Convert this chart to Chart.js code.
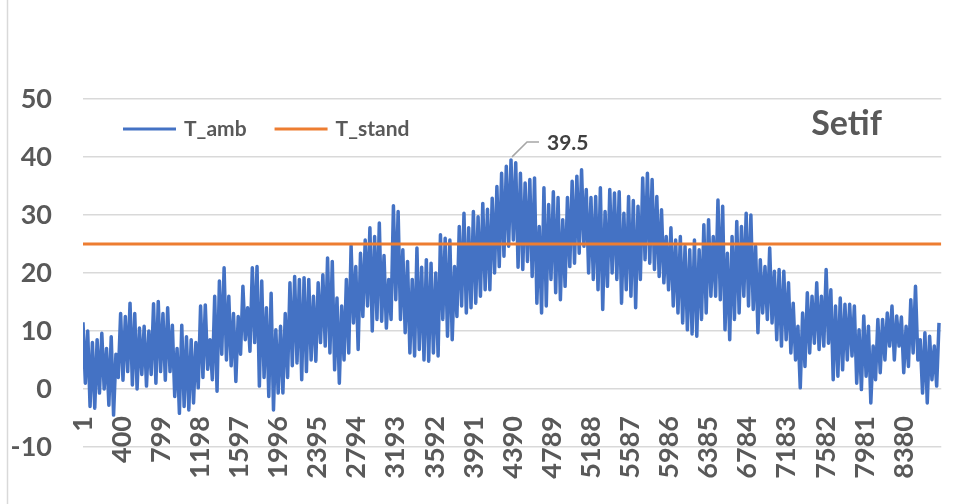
<!DOCTYPE html>
<html lang="en">
<head>
    <meta charset="UTF-8">
    <meta name="viewport" content="width=device-width, initial-scale=1.0">
    <title>Setif | T_amb vs T_stand</title>
    <script src="https://cdn.jsdelivr.net/npm/chart.js@4.4.0/dist/chart.umd.min.js"></script>
    <style>
        html, body { margin: 0; padding: 0; background: #fff; }
        .chart-box { position: relative; width: 956px; height: 504px; }
    </style>
</head>
<body>
    <div class="chart-box">
        <canvas id="setif-chart"></canvas>
    </div>

    <script>
        // Hourly ambient temperature, kept as alternating daily peaks / troughs
        // peaks every 48 h starting at hour 1, troughs every 48 h starting at hour 25
        const tHigh = [
            11.5, 10, 8, 8.5, 9.6, 7, 9, 6, 13, 12.5,
            14.8, 13, 10.5, 10.8, 10, 14.7, 15.1, 13, 14, 11,
            7, 11, 9, 8.5, 8, 14.3, 14.5, 8.5, 16, 18.6,
            20.9, 16, 13, 12.5, 17.7, 14, 20.9, 21.1, 18.6, 14,
            16.5, 10.2, 10.8, 13, 18.3, 19.4, 18.9, 19.2, 18.9, 16,
            18.3, 19.7, 22.6, 22, 15.7, 14.3, 18.9, 24.7, 21.1, 23.4,
            25.7, 27.8, 26.3, 28.6, 23, 18.9, 31.6, 30.6, 24, 22,
            18.9, 24.3, 21, 22.3, 21.7, 20, 26.6, 26, 25.7, 21.1,
            28, 30.3, 27.8, 30.6, 29.7, 32, 31, 32.9, 34.9, 37.2,
            38.4, 39.5, 39, 37.2, 35.5, 36.1, 36.4, 28, 34.7, 31.8,
            34, 33, 29.2, 33, 35.8, 36.7, 37.8, 34.4, 33, 33.2,
            34.7, 30.6, 34.4, 33.8, 34, 30.3, 33.2, 32.5, 31.5, 36.4,
            37.2, 36.1, 33.2, 30.9, 26.3, 27.8, 25.7, 26.3, 24.6, 24,
            25.7, 24, 28.3, 29.2, 26.3, 32.6, 31.5, 23.4, 26.3, 28.9,
            28, 30.3, 30, 24.6, 22.3, 21.1, 24.3, 20.3, 20.6, 20.3,
            18.3, 14.8, 10.8, 13.1, 16.6, 16, 18.3, 16, 20.6, 17.1,
            14.3, 15.7, 14.6, 14.6, 14.3, 10.2, 12.6, 10.8, 7.4, 12,
            12, 13.1, 14.3, 12.6, 12.4, 10.8, 15.4, 17.7, 8.5, 9.7,
            9.1, 7.4, 11.4
        ];
        const tLow = [
            1, -3, -3.3, -0.7, 0, -2.8, -4.5, 2, 1.5, 3,
            0.7, 0, 2.5, 0.5, 2.5, 1, 3, 1.5, 3, -1.3,
            -4.2, -3, -3.6, -2.4, 0.2, 2, 3.4, 1.6, -0.4, 6,
            5, 4, 1.3, 6, 8.5, 6.5, 8, 0.5, 2, -1.3,
            -3.6, -0.7, -0.7, 2, 4, 4.5, 1.6, 3, 5, 4.8,
            8, 7.4, 6.2, 3.3, 1, 5, 6.2, 11.4, 6.8, 12.5,
            14.3, 10, 12, 11.7, 10.5, 12, 15.4, 12, 9.7, 6.2,
            5.7, 6.8, 5, 4.8, 6.2, 5.7, 12, 9.1, 8.5, 12.5,
            14.3, 13.1, 14, 14.8, 16, 17.1, 17.1, 20, 21.1, 22.9,
            24.6, 25.7, 21, 20.6, 22, 19.4, 14.8, 13.1, 14.3, 18.9,
            16.6, 15.4, 17.7, 21.1, 21.7, 23.4, 24.6, 20, 18.9, 17.1,
            13.7, 17.7, 20, 18.9, 14.8, 17.1, 16, 14, 18.9, 22.3,
            21.7, 20.6, 19.4, 18.3, 17.1, 14.3, 13.1, 11.4, 10.2, 9.5,
            9.1, 12, 13.1, 16, 16, 15.4, 10.2, 8.5, 12, 13.1,
            16, 14.3, 13.7, 9.7, 13.1, 12, 11.4, 8.5, 7.4, 8.5,
            6.2, 5, 0.2, 3.9, 6.2, 7.9, 6.8, 7.4, 7.9, 1.6,
            2.2, 3.3, 5, 5.7, 1, -0.1, 2.2, -2.4, 1.6, 2.8,
            5, 7.4, 5, 7.4, 2.8, 3.9, 6.2, 5, -0.7, -2.4,
            1.6, 0.5
        ];
        const tStand = 25;
        const hoursInYear = 8760;
        const xTickLabels = [1, 400, 799, 1198, 1597, 1996, 2395, 2794, 3193, 3592, 3991,
                             4390, 4789, 5188, 5587, 5986, 6385, 6784, 7183, 7582, 7981, 8380];
        const seriesNames = ['T_amb', 'T_stand'];
        const seriesColors = ['#4472C4', '#ED7D31'];
        const stationName = 'Setif';

        const FONT = "Lato, 'Open Sans', sans-serif";
        const TEXT = '#595959';

        // interleave peaks and troughs, one point per 24 h
        const ambPoints = [];
        for (let j = 0; j < tHigh.length + tLow.length; j++) {
            const y = j % 2 === 0 ? tHigh[j / 2] : tLow[(j - 1) / 2];
            ambPoints.push({ x: 1 + 24 * j, y: y });
        }
        const standPoints = [{ x: 1, y: tStand }, { x: hoursInYear, y: tStand }];

        // white background + left frame line
        const framePlugin = {
            id: 'frame',
            beforeDraw(chart) {
                const ctx = chart.ctx;
                ctx.save();
                ctx.fillStyle = '#fff';
                ctx.fillRect(0, 0, chart.width, chart.height);
                ctx.strokeStyle = '#D9D9D9';
                ctx.lineWidth = 1.5;
                ctx.beginPath();
                ctx.moveTo(7.5, 0);
                ctx.lineTo(7.5, chart.height);
                ctx.stroke();
                ctx.restore();
            }
        };

        // callout on the yearly maximum
        const peakLabelPlugin = {
            id: 'peakLabel',
            afterDatasetsDraw(chart) {
                const pts = chart.data.datasets[0].data;
                let best = pts[0];
                pts.forEach(p => { if (p.y > best.y) best = p; });
                const px = chart.scales.x.getPixelForValue(best.x);
                const py = chart.scales.y.getPixelForValue(best.y);
                const ctx = chart.ctx;
                ctx.save();
                ctx.strokeStyle = '#A6A6A6';
                ctx.lineWidth = 1.5;
                ctx.beginPath();
                ctx.moveTo(px + 1, py - 3);
                ctx.lineTo(px + 16, py - 18);
                ctx.lineTo(px + 28, py - 18);
                ctx.stroke();
                ctx.fillStyle = '#404040';
                ctx.font = 'bold 21px ' + FONT;
                ctx.textAlign = 'left';
                ctx.textBaseline = 'middle';
                ctx.fillText(best.y.toString(), px + 36, py - 17);
                ctx.restore();
            }
        };

        // legend and station name inside the plot area
        const legendPlugin = {
            id: 'innerLegend',
            afterDraw(chart) {
                const area = chart.chartArea;
                const ctx = chart.ctx;
                ctx.save();
                ctx.font = 'bold 21px ' + FONT;
                ctx.textBaseline = 'middle';
                ctx.textAlign = 'left';
                let x = area.left + 40;
                const y = area.top + 30;
                seriesNames.forEach((name, i) => {
                    ctx.strokeStyle = seriesColors[i];
                    ctx.lineWidth = 3;
                    ctx.beginPath();
                    ctx.moveTo(x, y);
                    ctx.lineTo(x + 53, y);
                    ctx.stroke();
                    ctx.fillStyle = TEXT;
                    ctx.fillText(name, x + 61, y);
                    x += 61 + ctx.measureText(name).width + 28;
                });
                ctx.font = 'bold 34px ' + FONT;
                ctx.fillText(stationName, area.right - 130, area.top + 25);
                ctx.restore();
            }
        };

        new Chart(document.getElementById('setif-chart'), {
            type: 'line',
            data: {
                datasets: [
                    {
                        label: seriesNames[0],
                        data: ambPoints,
                        borderColor: seriesColors[0],
                        borderWidth: 3.5,
                        borderJoinStyle: 'round',
                        pointRadius: 0,
                        tension: 0,
                        order: 2
                    },
                    {
                        label: seriesNames[1],
                        data: standPoints,
                        borderColor: seriesColors[1],
                        borderWidth: 3,
                        pointRadius: 0,
                        order: 1
                    }
                ]
            },
            options: {
                responsive: true,
                maintainAspectRatio: false,
                animation: false,
                events: [],
                layout: { padding: { top: 99, right: 13, bottom: 57, left: 0 } },
                plugins: {
                    legend: { display: false },
                    tooltip: { enabled: false }
                },
                scales: {
                    x: {
                        type: 'linear',
                        min: 1,
                        max: hoursInYear,
                        position: { y: 0 },
                        grid: { display: false },
                        border: { display: false },
                        afterBuildTicks: (scale) => {
                            scale.ticks = xTickLabels.map(v => ({ value: v }));
                        },
                        ticks: {
                            autoSkip: false,
                            minRotation: 90,
                            maxRotation: 90,
                            padding: 19,
                            color: TEXT,
                            font: { family: FONT, size: 27, weight: 'bold' },
                            callback: (value) => value.toString()
                        }
                    },
                    y: {
                        min: -10,
                        max: 50,
                        afterFit: (scale) => { scale.width = 83; },
                        grid: { color: '#D9D9D9', lineWidth: 1.5, drawTicks: false },
                        border: { display: false },
                        ticks: {
                            stepSize: 10,
                            padding: 31,
                            color: TEXT,
                            font: { family: FONT, size: 27, weight: 'bold' }
                        }
                    }
                }
            },
            plugins: [framePlugin, peakLabelPlugin, legendPlugin]
        });
    </script>
</body>
</html>
